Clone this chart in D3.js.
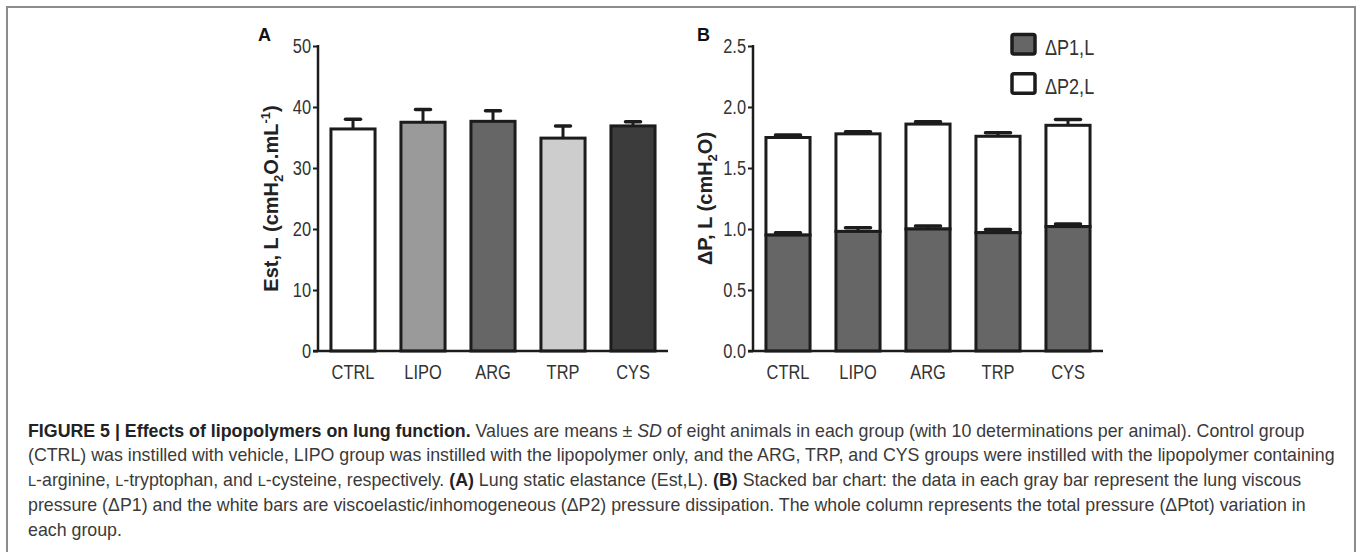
<!DOCTYPE html>
<html>
<head>
<meta charset="utf-8">
<script src="https://cdn.jsdelivr.net/npm/d3@7"></script>
<style>
  body { margin: 0; background: #fff; }
  svg { display: block; }
  .tick text { font-family: "Liberation Sans", Arial, sans-serif; fill: #333; }
  .caption { font-family: "Liberation Sans", Arial, sans-serif; fill: #3a3a3a; }
</style>
</head>
<body>
<script>
// groups and values
var groups = ["CTRL", "LIPO", "ARG", "TRP", "CYS"];

// panel A: static elastance, mean and SD
var estMean = [36.4, 37.5, 37.65, 34.9, 36.9];
var estSD = [1.6, 2.1, 1.75, 2.0, 0.7];
var estFill = ["#ffffff", "#9a9a9a", "#666666", "#cdcdcd", "#3c3c3c"];
var estTicks = [0, 10, 20, 30, 40, 50];

// panel B: stacked dP1 (gray) + dP2 (white)
var dp1Mean = [0.95, 0.98, 1.0, 0.97, 1.02];
var dp1SD = [0.02, 0.03, 0.025, 0.025, 0.02];
var dp2Mean = [0.80, 0.80, 0.86, 0.79, 0.83];
var dp2SD = [0.02, 0.017, 0.02, 0.028, 0.048];
var dpTicks = [0, 0.5, 1.0, 1.5, 2.0, 2.5];
var legendLabels = ["\u0394P1,L", "\u0394P2,L"];
var legendFill = ["#666666", "#ffffff"];

var width = 1357,
  height = 552;

var svg = d3
  .select("body")
  .append("svg")
  .attr("width", width)
  .attr("height", height);

// frame round the figure
svg
  .append("path")
  .attr("d", "M7,560V7H1355V560")
  .attr("fill", "none")
  .attr("stroke", "#8c8c8c")
  .attr("stroke-width", 2);

var plotTop = 46,
  plotBottom = 351,
  plotW = 350,
  ink = "#1c1c1c";

// no narrow font installed, so squeeze the glyphs instead
function narrow(sel, f) {
  sel.each(function() {
    var l = this.getComputedTextLength();
    d3.select(this).attr("textLength", l * f).attr("lengthAdjust", "spacingAndGlyphs");
  });
}

function panel(x0, yMax, ticks, fmt) {
  var g = svg.append("g").attr("transform", "translate(" + x0 + ",0)");
  var x = d3
    .scaleBand()
    .domain(groups)
    .range([0, plotW])
    .paddingInner(0.37)
    .paddingOuter(0.185);
  var y = d3.scaleLinear().domain([0, yMax]).range([plotBottom, plotTop]);

  var yAxis = g
    .append("g")
    .call(d3.axisLeft(y).tickValues(ticks).tickFormat(fmt).tickSize(5).tickPadding(2));
  yAxis.select(".domain").remove();
  yAxis.selectAll("line").attr("stroke", ink).attr("stroke-width", 2);
  yAxis.selectAll("text").style("font-size", "20px").call(narrow, 0.82);

  var xAxis = g
    .append("g")
    .attr("transform", "translate(0," + plotBottom + ")")
    .call(d3.axisBottom(x).tickSize(0).tickPadding(14));
  xAxis.select(".domain").remove();
  xAxis.selectAll("text").style("font-size", "20px").call(narrow, 0.82);

  return { g: g, x: x, y: y };
}

function axisLines(p) {
  p.g
    .append("line")
    .attr("x1", 0).attr("x2", 0)
    .attr("y1", plotTop - 1).attr("y2", plotBottom + 1)
    .attr("stroke", ink).attr("stroke-width", 2.5);
  p.g
    .append("line")
    .attr("x1", -5).attr("x2", plotW)
    .attr("y1", plotBottom).attr("y2", plotBottom)
    .attr("stroke", ink).attr("stroke-width", 2.5);
}

function errorBars(p, tops, sds, capW) {
  var e = p.g.selectAll(null).data(groups).enter().append("g");
  e.append("line")
    .attr("x1", function(d) { return p.x(d) + p.x.bandwidth() / 2; })
    .attr("x2", function(d) { return p.x(d) + p.x.bandwidth() / 2; })
    .attr("y1", function(d, i) { return p.y(tops[i]); })
    .attr("y2", function(d, i) { return p.y(tops[i] + sds[i]); })
    .attr("stroke", ink).attr("stroke-width", 3);
  e.append("line")
    .attr("x1", function(d) { return p.x(d) + p.x.bandwidth() / 2 - capW / 2; })
    .attr("x2", function(d) { return p.x(d) + p.x.bandwidth() / 2 + capW / 2; })
    .attr("y1", function(d, i) { return p.y(tops[i] + sds[i]); })
    .attr("y2", function(d, i) { return p.y(tops[i] + sds[i]); })
    .attr("stroke", ink).attr("stroke-width", 3.5)
    .attr("stroke-linecap", "round");
}

// ---------- panel A ----------
var pA = panel(318, 50, estTicks, d3.format("d"));
errorBars(pA, estMean, estSD, 15);
pA.g
  .selectAll(".bar")
  .data(groups)
  .enter()
  .append("rect")
  .attr("x", function(d) { return pA.x(d); })
  .attr("width", pA.x.bandwidth())
  .attr("y", function(d, i) { return pA.y(estMean[i]); })
  .attr("height", function(d, i) { return plotBottom - pA.y(estMean[i]); })
  .attr("fill", function(d, i) { return estFill[i]; })
  .attr("stroke", ink)
  .attr("stroke-width", 3);
axisLines(pA);

// ---------- panel B ----------
var pB = panel(753, 2.5, dpTicks, d3.format(".1f"));
var totals = dp1Mean.map(function(v, i) { return v + dp2Mean[i]; });
errorBars(pB, totals, dp2SD, 25);
pB.g
  .selectAll(".top")
  .data(groups)
  .enter()
  .append("rect")
  .attr("x", function(d) { return pB.x(d); })
  .attr("width", pB.x.bandwidth())
  .attr("y", function(d, i) { return pB.y(totals[i]); })
  .attr("height", function(d, i) { return pB.y(dp1Mean[i]) - pB.y(totals[i]); })
  .attr("fill", legendFill[1])
  .attr("stroke", ink)
  .attr("stroke-width", 3);
errorBars(pB, dp1Mean, dp1SD, 25);
pB.g
  .selectAll(".bottom")
  .data(groups)
  .enter()
  .append("rect")
  .attr("x", function(d) { return pB.x(d); })
  .attr("width", pB.x.bandwidth())
  .attr("y", function(d, i) { return pB.y(dp1Mean[i]); })
  .attr("height", function(d, i) { return plotBottom - pB.y(dp1Mean[i]); })
  .attr("fill", legendFill[0])
  .attr("stroke", ink)
  .attr("stroke-width", 3);
axisLines(pB);

// legend
var leg = svg
  .selectAll(".leg")
  .data(legendLabels)
  .enter()
  .append("g")
  .attr("transform", function(d, i) { return "translate(1012," + (34.5 + i * 39.3) + ")"; });
leg
  .append("rect")
  .attr("width", 23).attr("height", 19.5).attr("rx", 2)
  .attr("fill", function(d, i) { return legendFill[i]; })
  .attr("stroke", ink).attr("stroke-width", 3.5);
leg
  .append("text")
  .attr("x", 33).attr("y", 20)
  .style("font-family", '"Liberation Sans", Arial, sans-serif')
  .style("font-size", "22px")
  .attr("fill", "#333")
  .text(function(d) { return d; })
  .call(narrow, 0.82);

// axis titles
function yTitle(x, parts) {
  var t = svg
    .append("text")
    .attr("transform", "translate(" + x + ",198.5) rotate(-90)")
    .attr("text-anchor", "middle")
    .style("font-family", '"Liberation Sans", Arial, sans-serif')
    .style("font-weight", "bold")
    .style("font-size", "20px")
    .attr("fill", "#222");
  parts.forEach(function(p) {
    var s = t.append("tspan").text(p[0]);
    if (p[1] === "sub") s.style("font-size", "13px").attr("dy", 5);
    if (p[1] === "base") s.attr("dy", -5);
    if (p[1] === "sup") s.style("font-size", "13px").attr("dy", -8);
    if (p[1] === "back") s.attr("dy", 8);
  });
}
yTitle(278, [["Est, L (cmH"], ["2", "sub"], ["O.mL", "base"], ["-1", "sup"], [")", "back"]]);
yTitle(712, [["\u0394P, L (cmH"], ["2", "sub"], ["O)", "base"]]);

// panel letters
svg.append("text").attr("x", 258).attr("y", 41).text("A")
  .style("font-family", '"Liberation Sans", Arial, sans-serif')
  .style("font-weight", "bold").style("font-size", "18px").attr("fill", "#111");
svg.append("text").attr("x", 697).attr("y", 41).text("B")
  .style("font-family", '"Liberation Sans", Arial, sans-serif')
  .style("font-weight", "bold").style("font-size", "18px").attr("fill", "#111");

// caption
var captionLines = [
  [["FIGURE 5 | Effects of lipopolymers on lung function.", "b"], [" Values are means \u00b1 "], ["SD", "i"],
   [" of eight animals in each group (with 10 determinations per animal). Control group"]],
  [["(CTRL) was instilled with vehicle, LIPO group was instilled with the lipopolymer only, and the ARG, TRP, and CYS groups were instilled with the lipopolymer containing"]],
  [["L", "sc"], ["-arginine, "], ["L", "sc"], ["-tryptophan, and "], ["L", "sc"], ["-cysteine, respectively. "], ["(A)", "b"],
   [" Lung static elastance (Est,L). "], ["(B)", "b"], [" Stacked bar chart: the data in each gray bar represent the lung viscous"]],
  [["pressure (\u0394P1) and the white bars are viscoelastic/inhomogeneous (\u0394P2) pressure dissipation. The whole column represents the total pressure (\u0394Ptot) variation in"]],
  [["each group."]]
];
captionLines.forEach(function(line, i) {
  var t = svg
    .append("text")
    .attr("class", "caption")
    .attr("x", 28)
    .attr("y", 436.5 + i * 24.8)
    .style("font-size", "17.8px");
  line.forEach(function(p) {
    var s = t.append("tspan").text(p[0]);
    if (p[1] === "b") s.style("font-weight", "bold").attr("fill", "#222");
    if (p[1] === "i") s.style("font-style", "italic");
    if (p[1] === "sc") s.style("font-size", "14.5px");
  });
});
</script>
</body>
</html>
